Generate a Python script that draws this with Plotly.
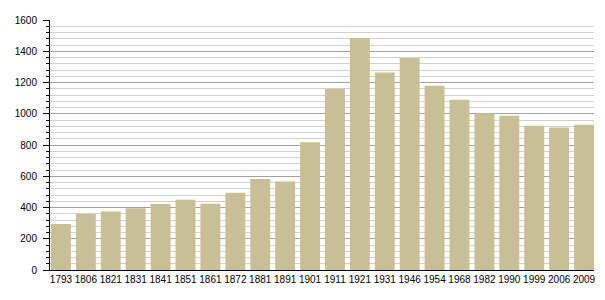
import plotly.graph_objects as go

years = ["1793", "1806", "1821", "1831", "1841", "1851", "1861", "1872", "1881", "1891",
         "1901", "1911", "1921", "1931", "1946", "1954", "1968", "1982", "1990", "1999",
         "2006", "2009"]
population = [295, 359, 374, 396, 423, 449, 424, 495, 583, 566,
              818, 1158, 1485, 1264, 1357, 1179, 1089, 1004, 987, 923,
              912, 929]

positions = list(range(len(years)))

fig = go.Figure(go.Bar(
    x=positions,
    y=population,
    width=0.8,
    marker=dict(color="#C9BF96", line=dict(width=0)),
    hoverinfo="x+y",
))

font = dict(family="Liberation Sans, Arial, sans-serif", size=10, color="#000")

fig.update_layout(
    width=605, height=300,
    margin=dict(l=50, r=9, t=20, b=30),
    paper_bgcolor="white", plot_bgcolor="white",
    showlegend=False,
    font=font,
    bargap=0.2,
)
fig.update_xaxes(
    range=[-0.44, len(years) - 1 + 0.4],
    tickmode="array", tickvals=positions, ticktext=years,
    showgrid=False, zeroline=False,
    showline=True, linecolor="black", linewidth=1,
    ticks="", tickfont=font,
)
fig.update_yaxes(
    range=[0, 1600], dtick=200, tick0=0,
    showgrid=True, gridcolor="#A0A0A0", gridwidth=1,
    zeroline=False,
    showline=True, linecolor="black", linewidth=1,
    ticks="outside", ticklen=6, tickcolor="black", tickwidth=1,
    ticklabelstandoff=4,
    minor=dict(dtick=40, tick0=0, ticks="outside", ticklen=3, tickcolor="black",
               showgrid=True, gridcolor="#D0D0D0", gridwidth=1),
    tickfont=font,
)

fig.write_html("out.html")
